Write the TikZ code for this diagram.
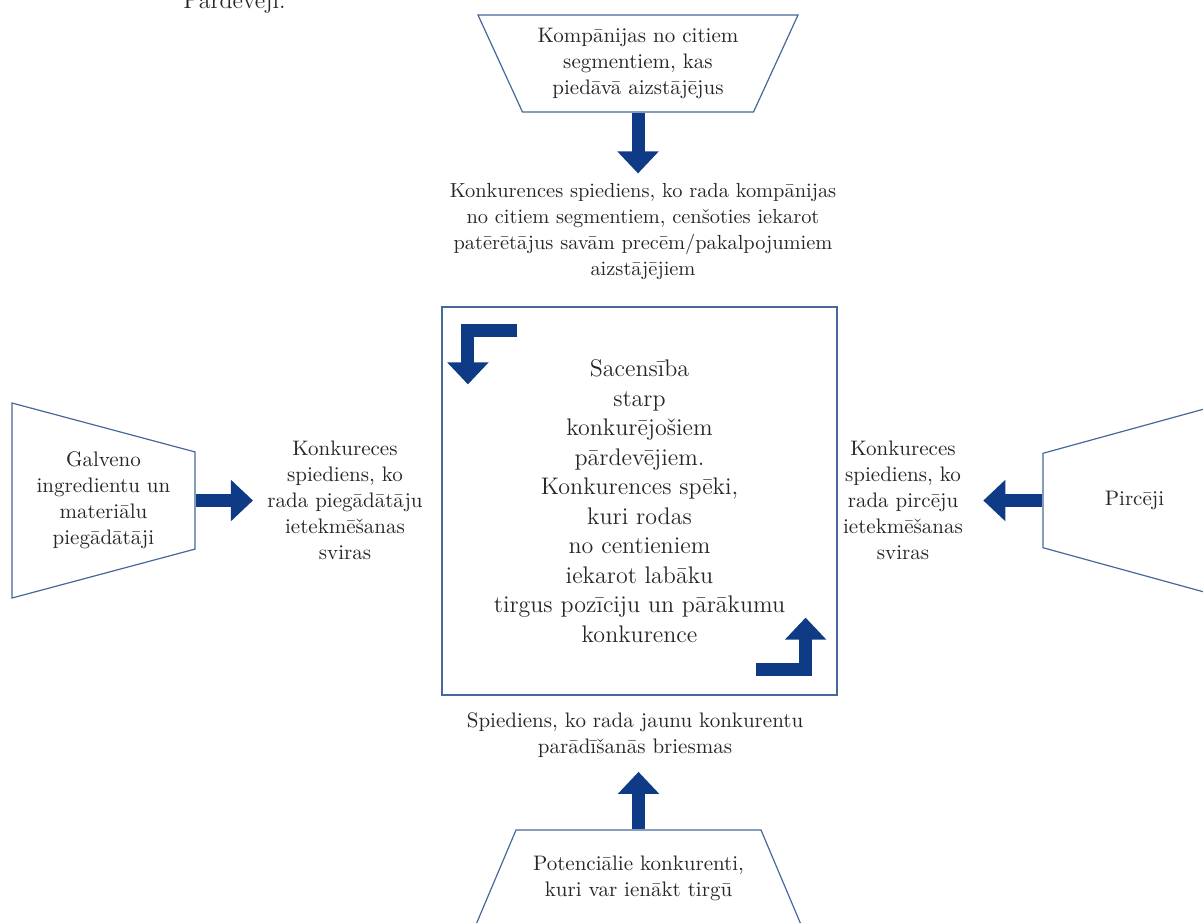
\documentclass[tikz,border=0pt]{standalone}
\usepackage{tikz}
\usetikzlibrary{positioning,arrows.meta,calc,shapes.geometric}
\definecolor{arrowblue}{HTML}{0E3A86}
\definecolor{edgeblue}{HTML}{46689A}
\definecolor{textdark}{HTML}{262626}
\tikzset{
  trap/.style={
    trapezium, trapezium stretches body, draw=edgeblue, fill=white,
    line width=0.6pt, align=center, inner sep=0pt, text=textdark,
    font=\fontsize{10.5}{13}\selectfont
  },
  lbl/.style={
    align=center, inner sep=1pt, text=textdark,
    font=\fontsize{10.5}{13}\selectfont
  },
  midbox/.style={
    draw=edgeblue, line width=0.6pt, minimum width=197.5pt,
    minimum height=194pt, align=center, text=textdark,
    font=\fontsize{12}{14.75}\selectfont
  },
  bigarr/.style={
    -{Triangle[width=20pt,length=11pt]}, line width=6.5pt, arrowblue
  },
  cornerarr/.style={
    bigarr, line join=miter
  }
}

\begin{document}
\begin{tikzpicture}[x=0.5pt,y=-0.5pt]
\clip (0,0) rectangle (1203,922);

% page text cut off at the top
\node[anchor=base west, inner sep=0pt, text=textdark, font=\fontsize{12}{14}\selectfont] (seller) at (183,8) {Pārdevēji.};

% the five forces
\node[midbox] (rivals) at (639.5,501) {Sacensība\\starp\\konkurējošiem\\pārdevējiem.\\Konkurences spēki,\\kuri rodas\\no centieniem\\iekarot labāku\\tirgus pozīciju un pārākumu\\konkurence};
\node[trap, shape border rotate=180, trapezium angle=57.8, minimum width=160pt, minimum height=48.5pt] (subst) at (638,63.5) {Kompānijas no citiem\\segmentiem, kas\\piedāvā aizstājējus};
\node[trap, shape border rotate=270, trapezium angle=69.9, minimum width=97.5pt, minimum height=91.5pt] (suppl) at (103.5,500.5) {Galveno\\ingredientu un\\materiālu\\piegādātāji};
\node[trap, shape border rotate=90, trapezium angle=49.7, minimum width=97.5pt, minimum height=91.5pt] (buyers) at (1134.5,500.5) {Pircēji};
\node[trap, trapezium angle=47.6, minimum width=163.5pt, minimum height=48.5pt] (entrants) at (638.5,878.5) {Potenciālie konkurenti,\\kuri var ienākt tirgū};

% pressure labels
\node[lbl, font=\fontsize{10.2}{13}\selectfont] (substlbl) at (643,232) {Konkurences spiediens, ko rada kompānijas\\no citiem segmentiem, cenšoties iekarot\\patērētājus savām precēm/pakalpojumiem\\aizstājējiem};
\node[lbl] (suppllbl) at (345,500) {Konkureces\\spiediens, ko\\rada piegādātāju\\ietekmēšanas\\sviras};
\node[lbl] (buyerslbl) at (903,500) {Konkureces\\spiediens, ko\\rada pircēju\\ietekmēšanas\\sviras};
\node[lbl] (entrantslbl) at (635,735) {Spiediens, ko rada jaunu konkurentu\\parādīšanās briesmas};

% arrows
\draw[bigarr, shorten >=4pt] (subst.south) -- (subst.south |- substlbl.north);
\draw[bigarr, shorten >=6pt] (suppl.east) -- (suppl.east -| suppllbl.west);
\draw[bigarr, shorten >=9pt] (buyers.west) -- (buyers.west -| buyerslbl.east);
\draw[bigarr, shorten >=6pt] (entrants.north) -- (entrants.north |- entrantslbl.south);

% arrows inside the box
\draw[cornerarr] ($(rivals.north west)+(76,24.5)$) -| ($(rivals.north west)+(26.5,78)$);
\draw[cornerarr] ($(rivals.south east)+(-82,-26.5)$) -| ($(rivals.south east)+(-32,-78)$);
\end{tikzpicture}
\end{document}
